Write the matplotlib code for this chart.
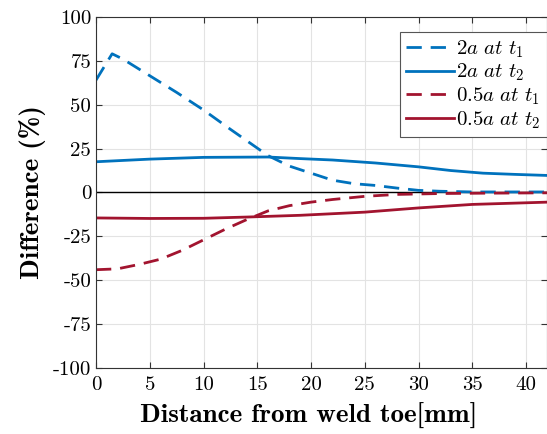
import matplotlib
matplotlib.use("Agg")
import matplotlib.pyplot as plt

plt.rcParams['font.family'] = ['cmr10', 'DejaVu Serif']
plt.rcParams['mathtext.fontset'] = 'cm'
plt.rcParams['axes.unicode_minus'] = False

# 2a at t1 (dashed blue)
x_2a_t1 = [0, 1.5, 2.5, 5, 7.5, 10, 12.5, 15.3, 16, 18, 20, 22, 24, 26, 28, 30, 32, 35, 38, 42]
y_2a_t1 = [64, 79, 76, 66.5, 57, 47, 36, 24, 21, 15, 11, 7, 5, 4, 2.5, 1.2, 0.7, 0.3, 0.3, 0.3]

# 2a at t2 (solid blue)
x_2a_t2 = [0, 5, 10, 16, 19, 22, 26, 30, 33, 36, 39, 42]
y_2a_t2 = [17.5, 19, 20, 20.2, 19.3, 18.5, 16.8, 14.6, 12.5, 11, 10.3, 9.7]

# 0.5a at t1 (dashed red)
x_05a_t1 = [0, 2, 4, 6, 8, 10, 12, 14, 16, 18, 20, 22, 25, 28, 32, 36, 42]
y_05a_t1 = [-44, -43.5, -41, -38, -33, -27, -21, -15.5, -10.5, -7.5, -5.5, -4, -2.2, -1.1, -0.6, -0.4, -0.2]

# 0.5a at t2 (solid red)
x_05a_t2 = [0, 5, 10, 14, 19, 25, 30, 35, 42]
y_05a_t2 = [-14.5, -14.8, -14.7, -14, -13, -11.2, -8.8, -6.8, -5.5]

blue = '#0072BD'
red = '#A2142F'
dash = (0, (5.5, 3.2))

fig = plt.figure(figsize=(5.47, 4.34), dpi=100)
ax = fig.add_axes([0.1755, 0.152, 0.8245, 0.809])

ax.grid(True, color='#e3e3e3', linewidth=0.8)
ax.set_axisbelow(True)
ax.axhline(0, color='black', linewidth=1.0, zorder=1)

ax.plot(x_2a_t1, y_2a_t1, color=blue, lw=2.0, linestyle=dash, label=r'$2a\ at\ t_1$')
ax.plot(x_2a_t2, y_2a_t2, color=blue, lw=2.0, label=r'$2a\ at\ t_2$')
ax.plot(x_05a_t1, y_05a_t1, color=red, lw=2.0, linestyle=dash, label=r'$0.5a\ at\ t_1$')
ax.plot(x_05a_t2, y_05a_t2, color=red, lw=2.0, label=r'$0.5a\ at\ t_2$')

ax.set_xlim(0, 41.95)
ax.set_ylim(-100, 100)
ax.set_xticks(range(0, 45, 5))
ax.set_yticks(range(-100, 101, 25))
ax.tick_params(direction='in', top=True, right=True, labelsize=15, length=4, color='#333333')
ax.tick_params(axis='x', pad=6)
for s in ax.spines.values():
    s.set_color('#333333')

ax.set_xlabel('Distance from weld toe[mm]', fontsize=19.5, family='cmb10', labelpad=6)
ax.xaxis.label.set_x(0.472)
ax.set_ylabel('Difference (%)', fontsize=19.5, family='cmb10', labelpad=5)

leg = ax.legend(loc='upper right', bbox_to_anchor=(1.0, 1 - 15 / 351), borderaxespad=0,
                fontsize=15, fancybox=False, framealpha=1, edgecolor='#555555',
                handlelength=2.3, handletextpad=0.1, labelspacing=0.1, borderpad=0.3)
leg.get_frame().set_linewidth(0.8)

fig.savefig('out.png', dpi=100)
